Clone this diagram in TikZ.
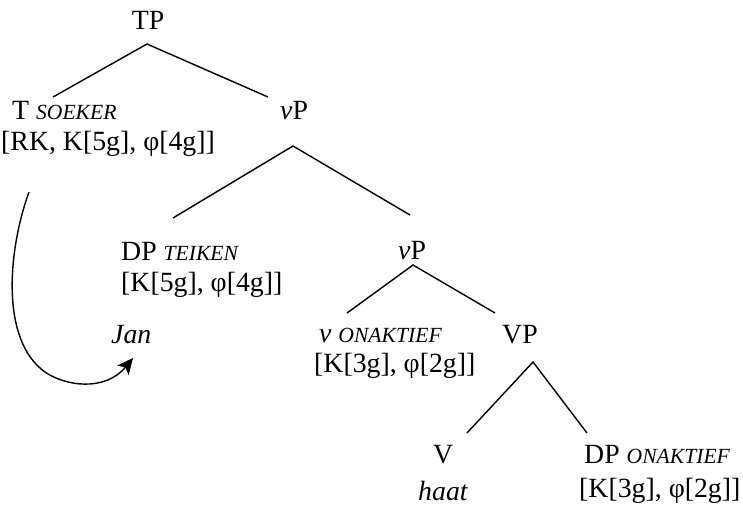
\documentclass[tikz,border=0pt]{standalone}
\usepackage{fontspec}
\setmainfont{Liberation Serif}
\usetikzlibrary{arrows.meta}
\newcommand\smitcap[1]{{\fontsize{21.6pt}{24pt}\selectfont\itshape #1}}
\tikzset{
  lbl/.style={inner sep=0pt, anchor=base west, font=\fontsize{27.8pt}{33pt}\selectfont},
  branch/.style={line width=1.4pt},
  move/.style={line width=1.4pt, -{Stealth[length=16pt,width=15pt,inset=4pt]}}
}
\begin{document}
\begin{tikzpicture}[x=1pt,y=-1pt]
\useasboundingbox (0,0) rectangle (743,508);
% nodes
\node[lbl, anchor=base] (TP) at (148,30) {TP};
\node[lbl] (T) at (12,120) {T \smitcap{SOEKER}};
\node[lbl] (Tf) at (1,150) {[RK, K[5g], φ[4g]]};
\node[lbl] (vP1) at (280,120) {\textit{v}P};
\node[lbl] (DP1) at (121,260) {DP \smitcap{TEIKEN}};
\node[lbl] (DP1f) at (121,291) {[K[5g], φ[4g]]};
\node[lbl] (Jan) at (111,343) {\textit{Jan}};
\node[lbl] (vP2) at (398,259) {\textit{v}P};
\node[lbl] (v) at (319,342) {\textit{v} \smitcap{ONAKTIEF}};
\node[lbl] (vf) at (314,372) {[K[3g], φ[2g]]};
\node[lbl] (VP) at (502,343) {VP};
\node[lbl] (V) at (433,463) {V};
\node[lbl] (haat) at (418,500) {\textit{haat}};
\node[lbl] (DP2) at (584,463) {DP \smitcap{ONAKTIEF}};
\node[lbl] (DP2f) at (579,497) {[K[3g], φ[2g]]};
% branch points
\coordinate (TPa) at (147,44);
\coordinate (Ttop) at (53,97);
\coordinate (vP1top) at (268,97);
\coordinate (vP1a) at (293,146);
\coordinate (DP1top) at (173,218);
\coordinate (vP2top) at (410,215);
\coordinate (vP2a) at (413,265);
\coordinate (vtop) at (347,313);
\coordinate (VPtop) at (495,313);
\coordinate (VPa) at (533,362);
\coordinate (Vtop) at (467,433);
\coordinate (DP2top) at (587,433);
\draw[branch] (Ttop) -- (TPa) -- (vP1top);
\draw[branch] (DP1top) -- (vP1a) -- (vP2top);
\draw[branch] (vtop) -- (vP2a) -- (VPtop);
\draw[branch] (Vtop) -- (VPa) -- (DP2top);
% movement arrow
\coordinate (arrS) at (29,192);
\coordinate (arrM) at (45,372);
\coordinate (arrE) at (133,358);
\draw[move] (arrS) .. controls (8,250) and (0,340) .. (arrM)
  .. controls (65,386) and (105,392) .. (arrE);
\end{tikzpicture}
\end{document}
